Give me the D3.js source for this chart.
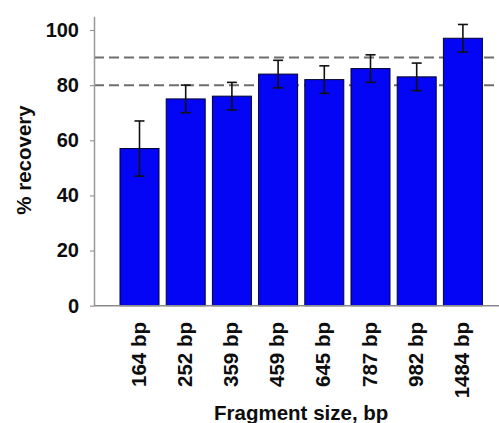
<!DOCTYPE html>
<html>
<head>
<meta charset="utf-8">
<script src="https://cdn.jsdelivr.net/npm/d3@7"></script>
<style>
  body { margin: 0; background: #fff; }
  svg { display: block; }
  text { font-family: "Liberation Sans", Arial, sans-serif; font-weight: bold; fill: #0d0d0d; }
</style>
</head>
<body>
<div id="target"></div>
<script>
// fragment sizes and recovery (mean, +/- error)
const fragments = ["164 bp", "252 bp", "359 bp", "459 bp", "645 bp", "787 bp", "982 bp", "1484 bp"];
const recovery = [57, 75, 76, 84, 82, 86, 83, 97];
const errors = [10, 5, 5, 5, 5, 5, 5, 5];
const refLines = [80, 90];
const yTicks = [0, 20, 40, 60, 80, 100];

function drawBars() {
  const width = 499,
    height = 423;

  const svg = d3.select("#target")
    .append("svg")
    .attr("width", width)
    .attr("height", height);

  const x0 = 94, y0 = 305.7;

  const x = d3.scaleBand()
    .domain(fragments)
    .range([116.4, 486])
    .paddingInner(0.156)
    .paddingOuter(0.078);

  const y = d3.scaleLinear()
    .domain([0, 105])
    .range([y0, 16.2]);

  // reference lines
  svg.append("g")
    .selectAll("line")
    .data(refLines)
    .enter()
    .append("line")
    .attr("x1", x0)
    .attr("x2", width)
    .attr("y1", (d) => y(d))
    .attr("y2", (d) => y(d))
    .style("stroke", "#6e6e6e")
    .style("stroke-width", 2)
    .style("stroke-dasharray", "10,5");

  // bars
  svg.append("g")
    .selectAll("rect")
    .data(recovery)
    .enter()
    .append("rect")
    .attr("x", (d, i) => x(fragments[i]))
    .attr("y", (d) => y(d))
    .attr("width", x.bandwidth())
    .attr("height", (d) => y0 - y(d))
    .style("fill", "#0505f5")
    .style("stroke", "#00002a")
    .style("stroke-width", 1);

  // error bars
  const err = svg.append("g")
    .selectAll("g")
    .data(recovery)
    .enter()
    .append("g")
    .attr("transform", (d, i) => `translate(${x(fragments[i]) + x.bandwidth() / 2},0)`)
    .style("stroke", "#111")
    .style("stroke-width", 1.6);

  err.append("line")
    .attr("y1", (d, i) => y(d + errors[i]))
    .attr("y2", (d, i) => y(d - errors[i]));
  err.append("line")
    .attr("x1", -5).attr("x2", 5)
    .attr("y1", (d, i) => y(d + errors[i]))
    .attr("y2", (d, i) => y(d + errors[i]));
  err.append("line")
    .attr("x1", -5).attr("x2", 5)
    .attr("y1", (d, i) => y(d - errors[i]))
    .attr("y2", (d, i) => y(d - errors[i]));

  // y axis
  const yAxis = svg.append("g")
    .attr("transform", `translate(${x0},0)`)
    .call(d3.axisLeft(y).tickValues(yTicks).tickSize(4).tickSizeOuter(0).tickPadding(11));
  yAxis.select(".domain").style("stroke", "#999").style("stroke-width", 1.5);
  yAxis.selectAll(".tick line").style("stroke", "#999").style("stroke-width", 1.2);
  yAxis.selectAll(".tick text")
    .style("font-size", "20px")
    .style("font-family", "'Liberation Sans', Arial, sans-serif")
    .style("font-weight", "bold")
    .attr("fill", "#0d0d0d");

  // x axis baseline
  svg.append("line")
    .attr("x1", x0)
    .attr("x2", width)
    .attr("y1", y0)
    .attr("y2", y0)
    .style("stroke", "#8a8a8a")
    .style("stroke-width", 1.5);

  // category labels, rotated
  svg.append("g")
    .selectAll("text")
    .data(fragments)
    .enter()
    .append("text")
    .attr("transform", (d) => `translate(${x(d) + x.bandwidth() / 2 - 1},322) rotate(-90)`)
    .attr("dy", "0.35em")
    .attr("text-anchor", "end")
    .style("font-size", "20.5px")
    .text((d) => d);

  svg.append("text")
    .attr("x", (x(fragments[0]) + x(fragments[7]) + x.bandwidth()) / 2)
    .attr("y", 420)
    .attr("text-anchor", "middle")
    .style("font-size", "20.5px")
    .text("Fragment size, bp");

  svg.append("text")
    .attr("transform", "translate(24,160) rotate(-90)")
    .attr("dy", "0.35em")
    .attr("text-anchor", "middle")
    .style("font-size", "20.5px")
    .text("% recovery");
}

drawBars();
</script>
</body>
</html>
